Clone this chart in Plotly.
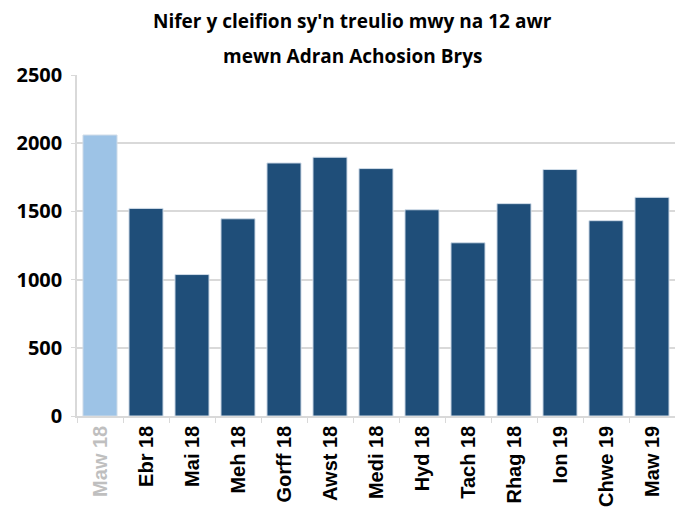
import plotly.graph_objects as go

categories = ["Maw 18", "Ebr 18", "Mai 18", "Meh 18", "Gorff 18", "Awst 18", "Medi 18",
              "Hyd 18", "Tach 18", "Rhag 18", "Ion 19", "Chwe 19", "Maw 19"]
values = [2060, 1522, 1037, 1446, 1855, 1897, 1814, 1512, 1270, 1557, 1807, 1432, 1603]
bar_colors = ["#9DC3E6"] + ["#1F4E79"] * 12
label_colors = ["#BFBFBF"] + ["#000000"] * 12
y_ticks = [0, 500, 1000, 1500, 2000, 2500]
title_lines = ["Nifer y cleifion sy'n treulio mwy na 12 awr", "mewn Adran Achosion Brys"]

ticktext = [f'<span style="color:{c}">{t}</span>' for t, c in zip(categories, label_colors)]

fig = go.Figure(go.Bar(
    x=categories, y=values,
    marker=dict(color=bar_colors, line=dict(color="#D0DCE8", width=1)),
))

fig.update_layout(
    width=675, height=508,
    margin=dict(l=77, r=0, t=75, b=92, autoexpand=False),
    plot_bgcolor="white", paper_bgcolor="white",
    bargap=0.26,
    showlegend=False,
    font=dict(family="Open Sans", color="black"),
)
for i, line in enumerate(title_lines):
    fig.add_annotation(text=f"<b>{line}</b>", xref="paper", yref="paper",
                       x=0.46, y=1, yshift=54 - 35 * i, showarrow=False,
                       xanchor="center", yanchor="middle",
                       font=dict(family="Open Sans", size=19, color="black"))

fig.update_xaxes(
    tickmode="array", tickvals=categories, ticktext=ticktext,
    tickangle=-90, tickfont=dict(family="Liberation Sans", size=20, color="black", weight="bold"),
    showline=True, linecolor="#D9D9D9", linewidth=1.5,
    ticks="outside", ticklen=5, tickcolor="#D9D9D9", tickson="boundaries",
    showgrid=False, automargin=False,
)
fig.update_yaxes(
    range=[0, 2500], tickvals=y_ticks,
    tickfont=dict(family="Open Sans", size=20, color="black", weight="bold"),
    showgrid=True, gridcolor="#D9D9D9", gridwidth=1.5,
    showline=True, linecolor="#D9D9D9", linewidth=1.5,
    ticks="outside", ticklen=4, tickcolor="#D9D9D9",
    ticklabelstandoff=5,
    zeroline=False, automargin=False,
)

fig.write_html("out.html", config={"displayModeBar": False},
               post_script="document.body.style.margin='0';document.body.style.overflow='hidden';")
